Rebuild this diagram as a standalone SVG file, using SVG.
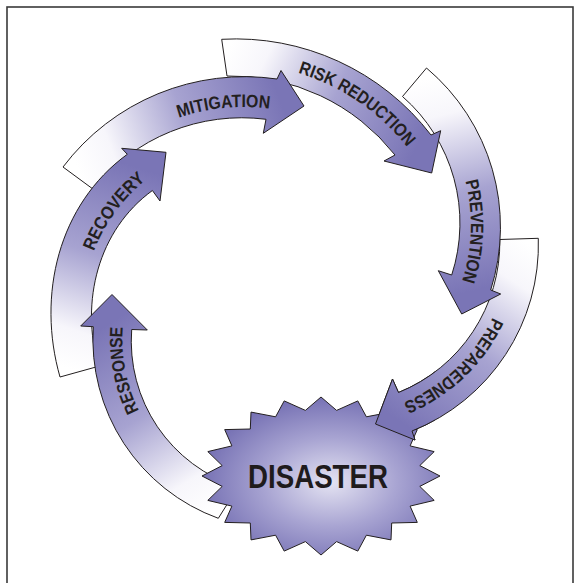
<svg xmlns="http://www.w3.org/2000/svg" width="580" height="583" viewBox="0 0 580 583">
<style>
.arrow{stroke:#231f20;stroke-width:1;stroke-linejoin:miter}
.lbl{font-family:"Liberation Sans",Arial,sans-serif;font-weight:bold;font-size:18px;fill:#231f20}
.big{font-family:"Liberation Sans",Arial,sans-serif;font-weight:bold;font-size:32.5px;fill:#1f1b1c}
</style>
<defs>
<linearGradient id="gBase">
<stop offset="0" stop-color="#ffffff"/>
<stop offset="0.18" stop-color="#f7f6fb"/>
<stop offset="0.55" stop-color="#a7a3d1"/>
<stop offset="1" stop-color="#7a75b6"/>
</linearGradient>
<linearGradient id="gMit" href="#gBase" gradientUnits="userSpaceOnUse" x1="80" y1="175" x2="280" y2="100"/>
<linearGradient id="gRR" href="#gBase" gradientUnits="userSpaceOnUse" x1="224" y1="58" x2="415" y2="150"/>
<linearGradient id="gPrev" href="#gBase" gradientUnits="userSpaceOnUse" x1="415" y1="82" x2="468" y2="292"/>
<linearGradient id="gPrep" href="#gBase" gradientUnits="userSpaceOnUse" x1="519" y1="238" x2="398" y2="420"/>
<linearGradient id="gResp" href="#gBase" gradientUnits="userSpaceOnUse" x1="228" y1="502" x2="115" y2="320"/>
<linearGradient id="gRec" href="#gBase" gradientUnits="userSpaceOnUse" x1="79" y1="372" x2="145" y2="170"/>
<radialGradient id="gStar" cx="0.54" cy="0.54" r="0.56">
<stop offset="0" stop-color="#e4e3f2"/>
<stop offset="0.5" stop-color="#a8a4d2"/>
<stop offset="1" stop-color="#736eb2"/>
</radialGradient>
<clipPath id="clipPrepHead"><rect x="355" y="365" width="80" height="90"/></clipPath>
<path id="tpMit" d="M 61.8,223.8 A 199 199 0 0 1 404.8,190.2"/>
<path id="tpRR" d="M 137.8,85.5 A 221 221 0 0 1 454.4,300.7"/>
<path id="tpPrev" d="M 386.9,73.2 A 179 179 0 0 1 376,383"/>
<path id="tpPrep" d="M 504,204.2 A 171 171 0 0 1 289.9,408.8"/>
<path id="tpResp" d="M 231,491.5 A 161 161 0 0 1 177.8,217.7"/>
<path id="tpRec" d="M 97,384.4 A 173 173 0 0 1 273.1,142"/>
</defs>
<rect x="0" y="0" width="580" height="583" fill="#ffffff"/>
<rect id="frame" x="7" y="7" width="566" height="600" fill="none" stroke="#3a3a3a" stroke-width="1.6"/>

<g id="connectors">
<g id="arrow-preparedness">
<path class="arrow" fill="url(#gPrep)" d="M 538.3,238.3 A 200.5 200.5 0 0 1 412,431 L 415,440 L 375.5,424 L 392.5,379 L 398.5,392.5 A 162 162 0 0 0 499.8,239.5 Z"/>
<text class="lbl"><textPath href="#tpPrep" startOffset="50%" text-anchor="middle" textLength="126" lengthAdjust="spacingAndGlyphs">PREPAREDNESS</textPath></text>
</g>
<g id="arrow-prevention">
<path class="arrow" fill="url(#gPrev)" d="M 426.5,68 A 208 208 0 0 1 490.7,290 L 500.7,294 L 461.7,314 L 438.3,270.7 L 451.7,275 A 168 168 0 0 0 402.5,96.5 Z"/>
<text class="lbl"><textPath href="#tpPrev" startOffset="50%" text-anchor="middle" textLength="101" lengthAdjust="spacingAndGlyphs">PREVENTION</textPath></text>
</g>
<g id="arrow-risk-reduction">
<path class="arrow" fill="url(#gRR)" d="M 221.7,39.3 A 246.5 246.5 0 0 1 431,135 L 440.7,130.7 L 431.7,173 L 384,161 L 395,155 A 207.6 207.6 0 0 0 227,76 Z"/>
<text class="lbl"><textPath href="#tpRR" startOffset="50%" text-anchor="middle" textLength="134" lengthAdjust="spacingAndGlyphs">RISK REDUCTION</textPath></text>
</g>
<g id="arrow-mitigation">
<path class="arrow" fill="url(#gMit)" d="M 63,167 A 227.6 227.6 0 0 1 277,79 L 281,70.5 L 304,106 L 263.3,133.3 L 266,119.3 A 190 190 0 0 0 93.3,189.3 Z"/>
<text class="lbl"><textPath href="#tpMit" startOffset="50%" text-anchor="middle" textLength="92" lengthAdjust="spacingAndGlyphs">MITIGATION</textPath></text>
</g>
<g id="arrow-recovery">
<path class="arrow" fill="url(#gRec)" d="M 60,377 C 36.6,295.2 58.5,204.3 127.3,154.3 L 121.7,148.3 L 166,152.3 L 160,201 L 152.4,190.5 C 98,230.1 80,301.6 98.5,366.3 Z"/>
<text class="lbl"><textPath href="#tpRec" startOffset="50%" text-anchor="middle" textLength="89" lengthAdjust="spacingAndGlyphs">RECOVERY</textPath></text>
</g>
<g id="arrow-response">
<path class="arrow" fill="url(#gResp)" d="M 218.3,518.3 A 190.5 190.5 0 0 1 93.3,326.7 L 80.7,326 L 112,294.5 L 147.3,330 L 131.7,329.5 A 153 153 0 0 0 238,487 Z"/>
<text class="lbl"><textPath href="#tpResp" startOffset="50%" text-anchor="middle" textLength="86" lengthAdjust="spacingAndGlyphs">RESPONSE</textPath></text>
</g>
</g>

<g id="disaster">
<polygon class="arrow" fill="url(#gStar)" points="440,476 419.8,486.4 434.2,500.4 410.1,506.1 417.3,522.4 391.7,523 391,539.9 366.4,535.2 357.8,551.1 336.6,541.6 321,555 305.4,541.6 284.2,551.1 275.6,535.2 251,539.9 250.3,523 224.7,522.4 231.9,506.1 207.8,500.4 222.2,486.4 202,476 222.2,465.6 207.8,451.6 231.9,445.9 224.7,429.6 250.3,429 251,412.1 275.6,416.8 284.2,400.9 305.4,410.4 321,397 336.6,410.4 357.8,400.9 366.4,416.8 391,412.1 391.7,429 417.3,429.6 410.1,445.9 434.2,451.6 419.8,465.6"/>
<text class="big" x="318" y="488" text-anchor="middle" textLength="140" lengthAdjust="spacingAndGlyphs">DISASTER</text>
</g>

<use href="#arrow-preparedness" clip-path="url(#clipPrepHead)"/>
</svg>
